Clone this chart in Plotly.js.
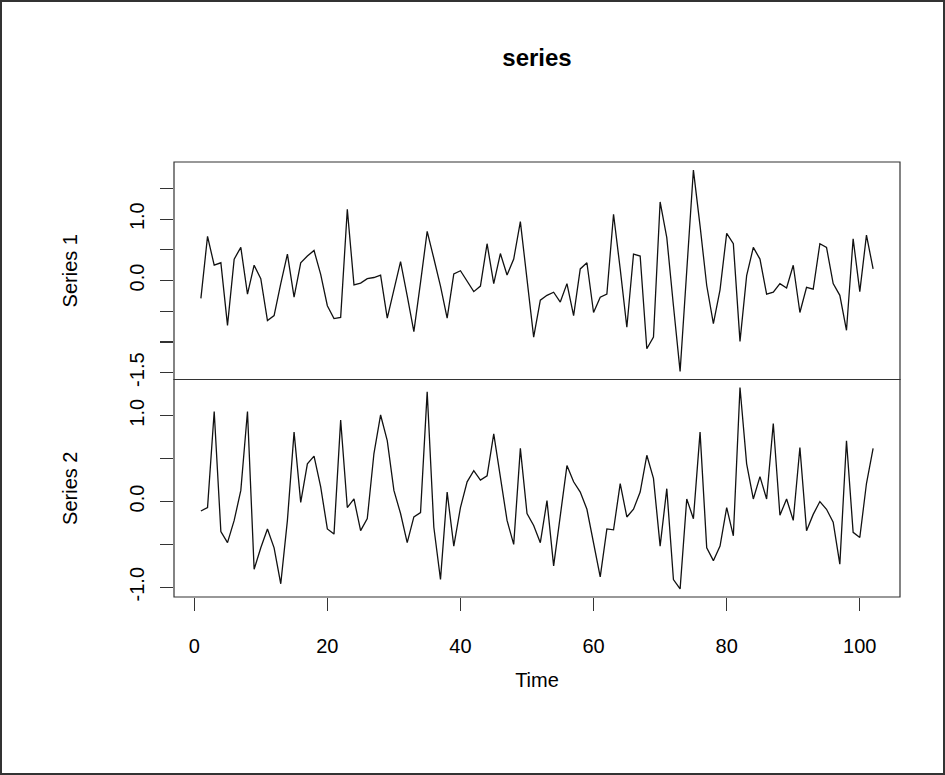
<!DOCTYPE html>
<html>
<head>
<meta charset="utf-8">
<script src="https://cdn.plot.ly/plotly-3.0.1.min.js"></script>
<style>
  html, body { margin: 0; padding: 0; background: #fff; }
  #wrap { position: relative; width: 945px; height: 775px; }
  #chart { position: absolute; left: 0; top: 0; width: 945px; height: 775px; }
  #frame { position: absolute; left: 0; top: 0; width: 945px; height: 775px;
           box-sizing: border-box; border: 2px solid #333; pointer-events: none; }
</style>
</head>
<body>
<div id="wrap"><div id="chart"></div><div id="frame"></div></div>
<script>
// ---- data ----
const time = Array.from({length: 102}, (_, i) => i + 1);

const series1 = [
  -0.29, 0.72, 0.25, 0.29, -0.73, 0.35, 0.54, -0.22, 0.25, 0.03,
  -0.65, -0.57, -0.05, 0.43, -0.27, 0.29, 0.40, 0.49, 0.10, -0.41,
  -0.62, -0.60, 1.16, -0.07, -0.04, 0.03, 0.05, 0.09, -0.61, -0.15,
  0.31, -0.25, -0.83, -0.03, 0.80, 0.36, -0.09, -0.61, 0.11, 0.16,
  0.00, -0.18, -0.09, 0.60, -0.05, 0.44, 0.09, 0.35, 0.96, 0.03,
  -0.92, -0.32, -0.24, -0.19, -0.35, -0.05, -0.57, 0.19, 0.29, -0.52,
  -0.27, -0.22, 1.08, 0.19, -0.76, 0.43, 0.40, -1.11, -0.92, 1.28,
  0.70, -0.41, -1.48, 0.16, 1.80, 0.89, -0.08, -0.70, -0.15, 0.77,
  0.60, -0.99, 0.08, 0.54, 0.35, -0.22, -0.19, -0.05, -0.12, 0.25,
  -0.52, -0.11, -0.14, 0.60, 0.54, -0.05, -0.24, -0.81, 0.68, -0.18,
  0.74, 0.19
];

const series2 = [
  -0.11, -0.07, 1.05, -0.35, -0.48, -0.22, 0.13, 1.05, -0.79, -0.54,
  -0.32, -0.54, -0.96, -0.22, 0.81, -0.01, 0.44, 0.53, 0.17, -0.32,
  -0.38, 0.95, -0.07, 0.03, -0.34, -0.20, 0.56, 1.01, 0.71, 0.13,
  -0.14, -0.48, -0.18, -0.13, 1.28, -0.30, -0.91, 0.11, -0.52, -0.07,
  0.23, 0.36, 0.25, 0.30, 0.79, 0.29, -0.22, -0.50, 0.62, -0.14,
  -0.28, -0.48, 0.01, -0.75, -0.14, 0.42, 0.23, 0.11, -0.09, -0.48,
  -0.88, -0.32, -0.33, 0.21, -0.18, -0.09, 0.11, 0.54, 0.27, -0.52,
  0.15, -0.91, -1.02, 0.03, -0.20, 0.81, -0.54, -0.69, -0.52, -0.07,
  -0.40, 1.33, 0.44, 0.03, 0.29, 0.03, 0.91, -0.16, 0.03, -0.22,
  0.63, -0.34, -0.15, 0.00, -0.09, -0.24, -0.73, 0.71, -0.36, -0.42,
  0.21, 0.62
];

const xTickVals = [0, 20, 40, 60, 80, 100];
const xTickText = ["0", "20", "40", "60", "80", "100"];
const s1TickVals = [-1.5, -1, -0.5, 0, 0.5, 1, 1.5];
const s1TickText = ["-1.5", "", "", "0.0", "", "1.0", ""];
const s2TickVals = [-1, -0.5, 0, 0.5, 1];
const s2TickText = ["-1.0", "", "0.0", "", "1.0"];

const chartTitle = "series";
const xTitle = "Time";
const s1Name = "Series 1";
const s2Name = "Series 2";

// R-style 4% padded ranges
function padRange(arr) {
  const lo = Math.min(...arr), hi = Math.max(...arr), d = (hi - lo) * 0.04;
  return [lo - d, hi + d];
}
const xRange = padRange(time);

const FONT = "Liberation Sans, Arial, sans-serif";
const traces = [
  { x: time, y: series1, xaxis: 'x', yaxis: 'y2', type: 'scatter', mode: 'lines',
    line: { color: '#111', width: 1.3 }, name: s1Name, hoverinfo: 'x+y' },
  { x: time, y: series2, xaxis: 'x', yaxis: 'y', type: 'scatter', mode: 'lines',
    line: { color: '#111', width: 1.3 }, name: s2Name, hoverinfo: 'x+y' }
];

const yCommon = {
  ticks: 'outside', ticklen: 13, tickwidth: 1.2, tickcolor: '#333',
  tickangle: -90, showgrid: false, zeroline: false, showline: false,
  tickfont: { family: FONT, size: 20, color: '#000' },
  ticklabelstandoff: 8, tickmode: 'array'
};

const layout = {
  width: 945, height: 775,
  margin: { l: 174, r: 45, t: 162, b: 178 },
  paper_bgcolor: '#fff', plot_bgcolor: '#fff',
  showlegend: false,
  font: { family: FONT, size: 20, color: '#000' },
  title: { text: '<b>' + chartTitle + '</b>', font: { family: FONT, size: 24, color: '#000' },
           x: 0.5, xref: 'paper', xanchor: 'center', y: 1 - 58 / 775, yref: 'container', yanchor: 'middle' },
  xaxis: {
    domain: [0, 1], anchor: 'y', range: xRange,
    tickmode: 'array', tickvals: xTickVals, ticktext: xTickText,
    ticks: 'outside', ticklen: 13, tickwidth: 1.2, tickcolor: '#333',
    showgrid: false, zeroline: false, showline: false,
    tickfont: { family: FONT, size: 20, color: '#000' }, ticklabelstandoff: 18,
    title: { text: xTitle, font: { family: FONT, size: 20, color: '#000' }, standoff: 16 }
  },
  yaxis: Object.assign({}, yCommon, {
    domain: [0, 0.5], anchor: 'x', range: padRange(series2),
    tickvals: s2TickVals, ticktext: s2TickText,
    title: { text: s2Name, font: { family: FONT, size: 20, color: '#000' }, standoff: 43 }
  }),
  yaxis2: Object.assign({}, yCommon, {
    domain: [0.5, 1], anchor: 'x', range: padRange(series1),
    tickvals: s1TickVals, ticktext: s1TickText,
    title: { text: s1Name, font: { family: FONT, size: 20, color: '#000' }, standoff: 43 }
  }),
  shapes: [
    { type: 'rect', xref: 'paper', yref: 'paper', x0: 0, x1: 1, y0: 0.5, y1: 1,
      line: { color: '#333', width: 1.2 }, fillcolor: 'rgba(0,0,0,0)' },
    { type: 'rect', xref: 'paper', yref: 'paper', x0: 0, x1: 1, y0: 0, y1: 0.5,
      line: { color: '#333', width: 1.2 }, fillcolor: 'rgba(0,0,0,0)' }
  ]
};

Plotly.newPlot('chart', traces, layout, { displayModeBar: false, staticPlot: true });
</script>
</body>
</html>
